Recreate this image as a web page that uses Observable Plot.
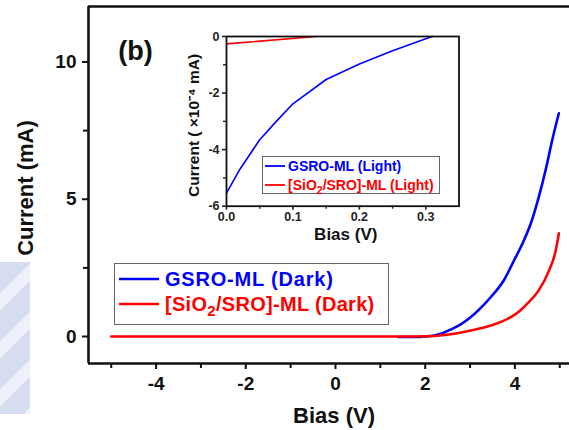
<!DOCTYPE html>
<html>
<head>
<meta charset="utf-8">
<script src="https://cdn.jsdelivr.net/npm/d3@7"></script>
<script src="https://cdn.jsdelivr.net/npm/@observablehq/plot@0.6"></script>
<style>
  html, body { margin: 0; padding: 0; background: #fff; }
  #wrap { position: relative; width: 569px; height: 430px; overflow: hidden; font-family: "Liberation Sans", Arial, sans-serif; font-weight: bold; }
  #wrap svg { display: block; }
  #mark { position: absolute; left: 0; top: 262px; width: 30px; height: 152px;
          background: repeating-linear-gradient(135deg, #ccd4ec 0px, #ccd4ec 22px, #e9edf7 22px, #e9edf7 34px); opacity: 0.8; }
  .legend { position: absolute; border: 1.5px solid #666; box-sizing: border-box; background: #fff; }
  .row { position: absolute; white-space: nowrap; display: flex; align-items: center; }
  .row .ln { display: inline-block; }
  sub { font-size: 0.75em; vertical-align: -0.35em; line-height: 0; }
</style>
</head>
<body>
<div id="wrap"><div id="mark"></div></div>
<script>
// ---------- data ----------
const darkBiasGSRO    = [1.4, 1.8, 2.0, 2.2, 2.4, 2.56, 2.8, 3.01, 3.2, 3.46, 3.75, 3.98, 4.2, 4.35, 4.53, 4.7, 4.83, 4.98];
const darkCurrentGSRO = [-0.02, -0.02, 0.0, 0.04, 0.13, 0.25, 0.45, 0.70, 0.98, 1.43, 2.04, 2.77, 3.50, 4.10, 5.07, 6.17, 7.14, 8.13];

const darkBiasSiO2    = [-5, -3, -1, 0, 1, 1.5, 2.19, 2.6, 3.01, 3.46, 3.9, 4.1, 4.27, 4.53, 4.76, 4.91, 4.98];
const darkCurrentSiO2 = [0, 0, 0, 0, 0, 0, 0.02, 0.09, 0.22, 0.40, 0.70, 0.92, 1.19, 1.68, 2.40, 3.13, 3.76];

const lightBiasGSRO    = [0.0, 0.02, 0.05, 0.075, 0.1, 0.15, 0.2, 0.25, 0.3, 0.31];
const lightCurrentGSRO = [-5.54, -4.7, -3.65, -3.0, -2.38, -1.52, -0.97, -0.5, -0.08, 0.0];

const lightBiasSiO2    = [0.0, 0.135];
const lightCurrentSiO2 = [-0.26, 0.0];

const mainXTicks = [-4, -2, 0, 2, 4];
const mainXMinor = [-5, -3, -1, 1, 3, 5];
const mainYTicks = [0, 5, 10];
const mainYMinor = [2.5, 7.5];
const insetXTicks = [0.0, 0.1, 0.2, 0.3];
const insetXMinor = [0.05, 0.15, 0.25];
const insetYTicks = [0, -2, -4, -6];
const insetYMinor = [-1, -3, -5];

const seriesNames = ["GSRO-ML (Dark)", "[SiO<sub>2</sub>/SRO]-ML (Dark)", "GSRO-ML (Light)", "[SiO<sub>2</sub>/SRO]-ML (Light)"];
const seriesColors = ["#0000ff", "#ff0000"];

const zip = (xs, ys) => xs.map((x, i) => ({x, y: ys[i]}));

const FONT = "'Liberation Sans', Arial, sans-serif";
const wrap = document.getElementById("wrap");

// ---------- main plot ----------
const xMin = -5.507, xMax = 5.217, yMin = -0.983, yMax = 12.02;
const main = Plot.plot({
  width: 569, height: 430,
  marginLeft: 88, marginRight: 0, marginTop: 6, marginBottom: 67,
  style: {fontFamily: FONT, fontWeight: "bold", background: "transparent", color: "#111", overflow: "visible", position: "relative"},
  x: {domain: [xMin, xMax]},
  y: {domain: [yMin, yMax]},
  marks: [
    Plot.axisX(mainXTicks, {tickSize: 6, tickPadding: 7, fontSize: 19, label: null, strokeWidth: 2, tickFormat: d => d < 0 ? "-" + Math.abs(d) : String(d)}),
    Plot.axisX(mainXMinor, {tickSize: 5, tickFormat: () => "", label: null, strokeWidth: 2}),
    Plot.axisY(mainYTicks, {tickSize: 6, tickPadding: 6, fontSize: 19, label: null, strokeWidth: 2}),
    Plot.axisY(mainYMinor, {tickSize: 5, tickFormat: () => "", label: null, strokeWidth: 2}),
    Plot.ruleX([xMin], {stroke: "#111", strokeWidth: 2.6}),
    Plot.ruleY([yMin], {stroke: "#111", strokeWidth: 2.6}),
    Plot.ruleY([yMax], {stroke: "#111", strokeWidth: 2.6}),
    Plot.line(zip(darkBiasGSRO, darkCurrentGSRO), {x: "x", y: "y", stroke: seriesColors[0], strokeWidth: 2.6, curve: "monotone-x"}),
    Plot.line(zip(darkBiasSiO2, darkCurrentSiO2), {x: "x", y: "y", stroke: seriesColors[1], strokeWidth: 2.6, curve: "monotone-x"}),
    Plot.text(["Bias (V)"], {frameAnchor: "bottom", textAnchor: "middle", lineAnchor: "middle", dx: 5, dy: 52, fontSize: 22, fill: "#111"}),
    Plot.text(["Current (mA)"], {frameAnchor: "left", textAnchor: "middle", lineAnchor: "middle", rotate: -90, dx: -63, dy: 3, fontSize: 22, fill: "#111"}),
    Plot.text(["(b)"], {frameAnchor: "top-left", textAnchor: "middle", lineAnchor: "middle", dx: 135 - 88, dy: 51 - 6, fontSize: 27, fill: "#111"})
  ]
});
wrap.appendChild(main);

// ---------- inset plot ----------
const inset = Plot.plot({
  width: 300, height: 225,
  marginLeft: 56, marginRight: 11.5, marginTop: 16, marginBottom: 39.3,
  style: {fontFamily: FONT, fontWeight: "bold", background: "transparent", color: "#222", overflow: "visible"},
  x: {domain: [0, 0.35]},
  y: {domain: [-6, 0]},
  marks: [
    Plot.frame({fill: "#fff", stroke: "none"}),
    Plot.axisX(insetXTicks, {tickSize: 4, tickPadding: 2, fontSize: 12.5, label: null, strokeWidth: 1.6, tickFormat: d3.format(".1f")}),
    Plot.axisX(insetXMinor, {tickSize: 3, tickFormat: () => "", label: null, strokeWidth: 1.4}),
    Plot.axisY(insetYTicks, {tickSize: 4, tickPadding: 3, fontSize: 12.5, label: null, strokeWidth: 1.6, tickFormat: d => d < 0 ? "-" + Math.abs(d) : String(d)}),
    Plot.axisY(insetYMinor, {tickSize: 3, tickFormat: () => "", label: null, strokeWidth: 1.4}),
    Plot.line(zip(lightBiasGSRO, lightCurrentGSRO), {x: "x", y: "y", stroke: seriesColors[0], strokeWidth: 1.6, curve: "linear"}),
    Plot.line(zip(lightBiasSiO2, lightCurrentSiO2), {x: "x", y: "y", stroke: seriesColors[1], strokeWidth: 1.6}),
    Plot.frame({stroke: "#111", strokeWidth: 1.8}),
    Plot.text(["Bias (V)"], {frameAnchor: "bottom", textAnchor: "middle", lineAnchor: "middle", dx: 3, dy: 28, fontSize: 17, fill: "#111"}),
    Plot.text(["Current ( \u00d710\u207b\u2074 mA)"], {frameAnchor: "left", textAnchor: "middle", lineAnchor: "middle", rotate: -90, dx: -32, dy: 4, fontSize: 15.5, fill: "#111"})
  ]
});
inset.style.position = "absolute";
inset.style.left = "170px";
inset.style.top = "20px";
wrap.appendChild(inset);

// ---------- legends ----------
function legend(box, rows) {
  const d = document.createElement("div");
  d.className = "legend";
  Object.assign(d.style, {left: box.left + "px", top: box.top + "px", width: box.width + "px", height: box.height + "px"});
  wrap.appendChild(d);
  rows.forEach(r => {
    const row = document.createElement("div");
    row.className = "row";
    Object.assign(row.style, {left: (r.x - box.left) + "px", top: (r.y - box.top - r.fs * 0.6) + "px", height: (r.fs * 1.2) + "px", fontSize: r.fs + "px", color: r.color, letterSpacing: (r.ls || 0) + "px"});
    row.innerHTML = `<svg class="ln" width="${r.len}" height="4" style="margin-right:${r.gap}px"><line x1="0" x2="${r.len}" y1="2" y2="2" stroke="${r.color}" stroke-width="${r.sw}"/></svg><span>${r.label}</span>`;
    d.appendChild(row);
  });
}
legend({left: 114, top: 263, width: 275, height: 62}, [
  {x: 118, y: 278, fs: 20, color: seriesColors[0], label: seriesNames[0], len: 40, gap: 6, sw: 2.6, ls: 0.8},
  {x: 118, y: 303, fs: 20, color: seriesColors[1], label: seriesNames[1], len: 40, gap: 6, sw: 2.6, ls: 0.3}
]);
legend({left: 262, top: 156, width: 178, height: 38}, [
  {x: 264, y: 165, fs: 14, color: seriesColors[0], label: seriesNames[2], len: 20, gap: 3, sw: 1.8},
  {x: 264, y: 184, fs: 14, color: seriesColors[1], label: seriesNames[3], len: 20, gap: 3, sw: 1.8}
]);
</script>
</body>
</html>
